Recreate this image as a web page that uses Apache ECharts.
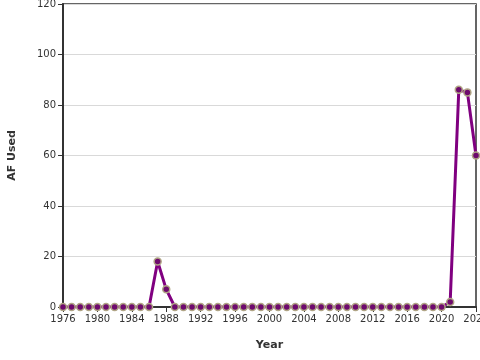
<!DOCTYPE html>
<html><head><meta charset="utf-8">
<script src="https://cdn.jsdelivr.net/npm/echarts@6/dist/echarts.min.js"></script>
<style>html,body{margin:0;padding:0;background:#fff}#c{width:480px;height:360px}</style>
</head><body><div id="c"></div>
<script>
const years = [1976,1977,1978,1979,1980,1981,1982,1983,1984,1985,1986,1987,1988,1989,1990,1991,1992,1993,1994,1995,1996,1997,1998,1999,2000,2001,2002,2003,2004,2005,2006,2007,2008,2009,2010,2011,2012,2013,2014,2015,2016,2017,2018,2019,2020,2021,2022,2023,2024];
const afUsed = [0,0,0,0,0,0,0,0,0,0,0,18,7,0,0,0,0,0,0,0,0,0,0,0,0,0,0,0,0,0,0,0,0,0,0,0,0,0,0,0,0,0,0,0,0,2,86,85,60];
const xName = "Year";
const yName = "AF Used";
const chart = echarts.init(document.getElementById('c'), null, {renderer:'canvas'});
const font = "DejaVu Sans";
chart.setOption({
  animation:false,
  grid:{left:63,right:4,top:4,bottom:53,show:true,borderColor:'#333',borderWidth:1.5,containLabel:false,outerBoundsMode:'none'},
  xAxis:{type:'value',min:1976,max:2024,interval:4,name:xName,nameLocation:'middle',nameGap:33,
    nameTextStyle:{fontFamily:font,fontWeight:'bold',fontSize:11,color:'#333'},
    axisLine:{show:true,lineStyle:{color:'#333',width:2}},
    axisTick:{show:true,length:5,lineStyle:{color:'#333'}},
    axisLabel:{fontFamily:font,fontSize:10,color:'#333',margin:7,showMaxLabel:true,hideOverlap:false,formatter:v=>String(v)},
    splitLine:{show:false}},
  yAxis:{type:'value',min:0,max:120,interval:20,name:yName,nameLocation:'middle',nameGap:45,
    nameTextStyle:{fontFamily:font,fontWeight:'bold',fontSize:11,color:'#333'},
    axisLine:{show:true,lineStyle:{color:'#333',width:2}},
    axisTick:{show:true,length:5,lineStyle:{color:'#333'}},
    axisLabel:{fontFamily:font,fontSize:10,color:'#333',margin:7},
    splitLine:{show:true,lineStyle:{color:'#d9d9d9',width:1}}},
  series:[{type:'line',data:years.map((y,i)=>[y,afUsed[i]]),
    lineStyle:{color:'#800080',width:3},
    symbol:'circle',symbolSize:7,
    itemStyle:{color:'#6e0a6e',borderColor:'#b0a585',borderWidth:1.5},
    z:5}]
});
</script></body></html>
